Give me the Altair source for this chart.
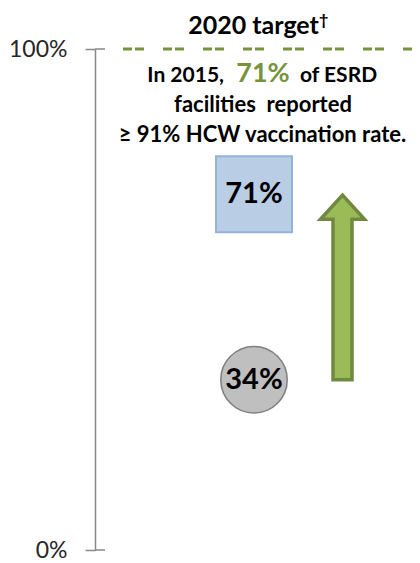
import altair as alt
import pandas as pd

# ---- data ----
tick_values = [0.0, 1.0]
target_value = [1.0]
point_names = ["Baseline", "2015"]
point_values = [0.34, 0.71]
point_text = ["34%", "71%"]
title_text = "2020 target"
note_first = ["In 2015,", "71%", "of ESRD"]
note_rest = ["facilities\u00a0 reported", "≥ 91% HCW vaccination rate."]

FONT = "Lato"
GREEN = "#77933C"
ARROW_FILL = "#9BBB59"
ARROW_STROKE = "#71893F"
GRAY = "#898989"
W, H = 317, 501

y_scale = alt.Scale(domain=[0, 1], nice=False)

ticks_df = pd.DataFrame({"v": tick_values})
pts = pd.DataFrame({"name": point_names, "value": point_values, "label": point_text})
target_df = pd.DataFrame({"t": target_value})
arrow_df = pd.DataFrame({"start": [point_values[0]], "end": [point_values[1]]})
one = pd.DataFrame({"a": [0]})

axis_layer = alt.Chart(ticks_df).mark_rule(color=GRAY, strokeWidth=1.5).encode(
    y=alt.Y("v:Q", scale=y_scale,
            axis=alt.Axis(values=tick_values, format=".0%", title=None, grid=False,
                          domain=True, domainColor=GRAY, domainWidth=1.5,
                          ticks=True, tickSize=10, tickColor=GRAY, tickWidth=1.5,
                          labelFont=FONT, labelFontSize=23, labelColor="#262626",
                          labelPadding=18)),
    x=alt.value(0), x2=alt.value(10))

target = alt.Chart(target_df).mark_rule(color=GREEN, strokeWidth=3,
                                        strokeDash=[9, 3, 9, 19]).encode(
    y=alt.Y("t:Q", scale=y_scale), x=alt.value(28), x2=alt.value(W))

circle = alt.Chart(pts).transform_filter(alt.datum.name == point_names[0]).mark_circle(
    size=4418, fill="#BFBFBF", stroke="#7F7F7F", strokeWidth=1.5, opacity=1).encode(
    x=alt.value(159), y=alt.Y("value:Q", scale=y_scale))

square = alt.Chart(pts).transform_filter(alt.datum.name == point_names[1]).mark_square(
    size=5776, fill="#B9CDE5", stroke="#95B3D7", strokeWidth=2, opacity=1).encode(
    x=alt.value(159), y=alt.Y("value:Q", scale=y_scale))

pt_labels = alt.Chart(pts).mark_text(font=FONT, fontSize=29, fontWeight="bold",
                                     color="black", baseline="middle").encode(
    x=alt.value(159), y=alt.Y("value:Q", scale=y_scale), text="label:N")

shaft = alt.Chart(arrow_df).mark_rect(fill=ARROW_FILL, stroke=ARROW_STROKE, strokeWidth=3.5,
                                      y2Offset=15).encode(
    x=alt.value(238), x2=alt.value(257),
    y=alt.Y("start:Q", scale=y_scale), y2="end:Q")

head = alt.Chart(arrow_df).mark_point(shape="M-1,0L0,-1.1L1,0Z", size=1936, filled=True,
                                      fill=ARROW_FILL, stroke=ARROW_STROKE, strokeWidth=3.5,
                                      opacity=1, yOffset=25).encode(
    x=alt.value(247.5), y=alt.Y("end:Q", scale=y_scale))

patch = alt.Chart(arrow_df).mark_rect(fill=ARROW_FILL, yOffset=21, y2Offset=29).encode(
    x=alt.value(239.8), x2=alt.value(255.2),
    y=alt.Y("end:Q", scale=y_scale), y2="end:Q")

def txt(s, x, y, size, align="center", color="black", weight="bold"):
    return alt.Chart(one).mark_text(text=s, font=FONT, fontSize=size, fontWeight=weight,
                                    align=align, baseline="alphabetic", color=color).encode(
        x=alt.value(x), y=alt.value(y))

title = txt(title_text, 158.5, -15, 25)
dagger = txt("†", 224, -24, 16, align="left")
l1a = txt(note_first[0], 129, 33, 21, align="right")
l1b = txt(note_first[1], 168, 33, 27, color=GREEN)
l1c = txt(note_first[2], 205, 33, 21, align="left")
l2 = txt(note_rest[0], 168, 63, 22)
l3 = txt(note_rest[1], 167.5, 93, 22)

chart = alt.layer(axis_layer, target, circle, square, pt_labels, shaft, head, patch,
                  title, dagger, l1a, l1b, l1c, l2, l3).properties(
    width=W, height=H,
    autosize=alt.AutoSizeParams(type="none"),
    padding={"left": 87, "top": 41, "right": 0, "bottom": 12},
).configure_view(stroke=None)

chart.save("out.html", embed_options={"renderer": "svg", "actions": False})
